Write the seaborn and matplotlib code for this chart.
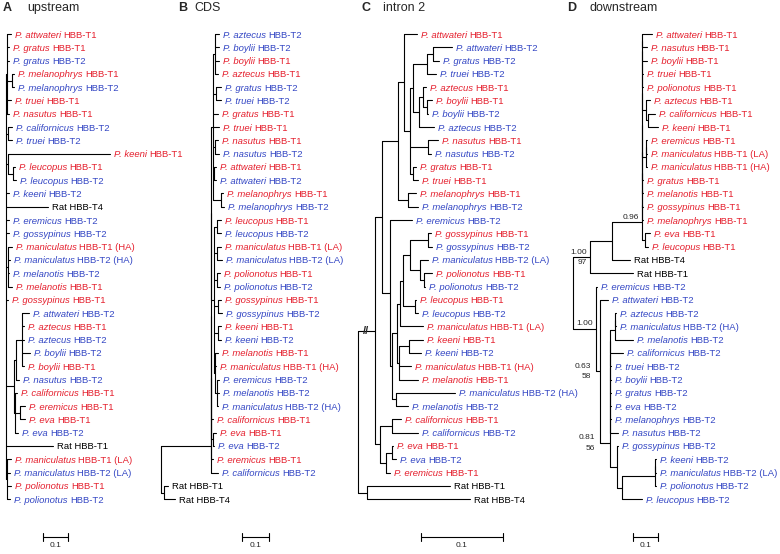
import matplotlib
matplotlib.use("Agg")
import matplotlib.pyplot as plt
import pandas as pd
import seaborn as sns

# gene trees, branch lengths in substitutions/site
# leaf code = species[-population].gene, internal names = support values
upstream_tree = (
    "((attwateri.T1:0.016,gratus.T1:0.008,gratus.T2:0.008,"
    "(melanophrys.T1:0.008,melanophrys.T2:0.008):0.02,truei.T1:0.016,nasutus.T1:0.008):0.004,"
    "(californicus.T2:0.016,truei.T2:0.016):0.008,"
    "(keeni.T1:0.408,(leucopus.T1:0.008,leucopus.T2:0.012):0.02):0.008,"
    "keeni.T2:0.012,Rat.T4:0.168,eremicus.T2:0.012,gossypinus.T2:0.012,"
    "(maniculatus-HA.T1:0.016,maniculatus-HA.T2:0.008,melanotis.T2:0.004,melanotis.T1:0.016):0.008,"
    "gossypinus.T1:0.008,"
    "(((attwateri.T2:0.028,aztecus.T1:0.008,aztecus.T2:0.008,boylii.T2:0.032,boylii.T1:0.008):0.024,"
    "nasutus.T2:0.012):0.008,"
    "(californicus.T1:0.008,(eremicus.T1:0.02,eva.T1:0.02):0.02,eva.T2:0.012):0.004):0.032,"
    "Rat.T1:0.188,"
    "(maniculatus-LA.T1:0.016,maniculatus-LA.T2:0.012,polionotus.T1:0.016,polionotus.T2:0.012):0.004);"
)

cds_tree = (
    "((((((("
    "(aztecus.T2:0.0148,boylii.T2:0.0148,boylii.T1:0.0148,aztecus.T1:0.011):0.0074,"
    "(gratus.T2:0.0185,truei.T2:0.0185):0.011,gratus.T1:0.0185,truei.T1:0.022,"
    "(nasutus.T1:0.011,nasutus.T2:0.0148):0.0074,"
    "(attwateri.T1:0.0074,attwateri.T2:0.0074):0.0037,"
    "(melanophrys.T1:0.0074,melanophrys.T2:0.011):0.0296):0.0074,"
    "((leucopus.T1:0.0148,leucopus.T2:0.0148):0.011,"
    "(maniculatus-LA.T1:0.0148,maniculatus-LA.T2:0.0185):0.011,"
    "(polionotus.T1:0.011,polionotus.T2:0.011):0.011,"
    "(gossypinus.T1:0.011,gossypinus.T2:0.0148):0.0148,"
    "(keeni.T1:0.011,keeni.T2:0.011):0.0148,"
    "(melanotis.T1:0.011,maniculatus-HA.T1:0.0037,"
    "(eremicus.T2:0.0074,melanotis.T2:0.0074,maniculatus-HA.T2:0.0037):0.0074):0.0037):0.011"
    "):0,californicus.T1:0.0074):0,"
    "(eva.T1:0.011,eva.T2:0.0037):0.0074):0,eremicus.T1:0.0074):0,"
    "californicus.T2:0.026):0.185,"
    "(Rat.T1:0.0148,Rat.T4:0.041):0.011);"
)

intron2_tree = (
    "((((("
    "attwateri.T1:0.0159,"
    "(("
    "((attwateri.T2:0.0232,gratus.T2:0.0073):0.0073,truei.T2:0.011):0.0171,"
    "((aztecus.T1:0.0037,(boylii.T1:0.0061,boylii.T2:0.0012):0.0049):0.0049,aztecus.T2:0.0183):0.0073"
    "):0.0037,"
    "(nasutus.T1:0.0122,nasutus.T2:0.0037):0.022,"
    "(gratus.T1:0.0037,truei.T1:0.0061):0.0037"
    "):0.0073):0.0073,"
    "(melanophrys.T1:0.0098,melanophrys.T2:0.0122):0.0122):0.0195,"
    "(eremicus.T2:0.0268,"
    "((((("
    "(gossypinus.T1:0.0037,gossypinus.T2:0.0049):0.022,"
    "(maniculatus-LA.T2:0.0098,(polionotus.T1:0.0098,polionotus.T2:0.0012):0.0049):0.0122"
    "):0.0085,"
    "(leucopus.T1:0.0012,leucopus.T2:0.0037):0.0146):0.0037,"
    "maniculatus-LA.T1:0.028):0.0037,"
    "((keeni.T1:0.0171,keeni.T2:0.0146):0.0122,maniculatus-HA.T1:0.0146,melanotis.T1:0.0232):0.0024"
    "):0.0061,"
    "(maniculatus-HA.T2:0.072,melanotis.T2:0.0146):0.0049"
    "):0.0024):0.0098):0.0085,"
    "((californicus.T1:0.011,californicus.T2:0.0317):0.0146,"
    "((eva.T1:0.0012,eva.T2:0.0049):0.0073,eremicus.T1:0.0049):0.0073):0.0061"
    ")//:0.0207,"
    "(Rat.T1:0.101,Rat.T4:0.126):0.011);"
)

downstream_tree = (
    "(((((((((((((("
    "attwateri.T1:0.0405,nasutus.T1:0.02):0,boylii.T1:0.02):0,truei.T1:0.004):0,"
    "polionotus.T1:0.004):0,"
    "(aztecus.T1:0.016,(californicus.T1:0.028,keeni.T1:0.0405):0.008):0.016):0,"
    "((eremicus.T1:0.004,maniculatus-LA.T1:0.004):0,maniculatus-HA.T1:0.004):0.016):0,"
    "gratus.T1:0.004):0,melanotis.T1:0.004):0,gossypinus.T1:0.004):0,melanophrys.T1:0.004):0,"
    "(eva.T1:0.02,leucopus.T1:0.012):0.012)0.96:0.121,"
    "Rat.T4:0.073):0.089,Rat.T1:0.174)1.00/97:0.069,"
    "(eremicus.T2:0.004,(attwateri.T2:0.032,"
    "(((((((("
    "((aztecus.T2:0.004,maniculatus-HA.T2:0.004):0,melanotis.T2:0.073):0.02,"
    "californicus.T2:0.053):0,truei.T2:0.004):0,boylii.T2:0.004):0,gratus.T2:0.004):0,"
    "eva.T2:0.004):0,melanophrys.T2:0.004):0,nasutus.T2:0.032):0,"
    "(gossypinus.T2:0.004,(((keeni.T2:0.004,maniculatus-LA.T2:0.004):0,polionotus.T2:0.004):0.134,"
    "leucopus.T2:0.081):0.02):0.028)0.81/56:0.0405)0.63/58:0.016)1.00:0.093);"
)

trees = [upstream_tree, cds_tree, intron2_tree, downstream_tree]
panel_letters = ["A", "B", "C", "D"]
panel_titles = ["upstream", "CDS", "intron 2", "downstream"]
scale_bar_value = 0.1

# layout in pixels of the 780x554 canvas
W, H = 780, 554
LEAF_Y0, LEAF_DY = 34, 13.29
root_px = [6, 161, 358, 573]
px_per_unit = [250, 270, 820, 247]
bar_px = [43, 242, 421, 633]
letter_px = [3, 178, 362, 567]
title_px = [27, 194, 383, 590]

RED = "#e5202e"
BLUE = "#3447c4"
LEAF_FS = 6.8
PT = 0.72  # points per pixel at dpi 100


def parse_newick(text):
    s = "".join(text.split()).rstrip(";")
    pos = 0

    def read_node():
        nonlocal pos
        node = {"name": "", "length": 0.0, "children": []}
        if s[pos] == "(":
            pos += 1
            node["children"].append(read_node())
            while s[pos] == ",":
                pos += 1
                node["children"].append(read_node())
            pos += 1
        start = pos
        while pos < len(s) and s[pos] not in ",():":
            pos += 1
        node["name"] = s[start:pos]
        if pos < len(s) and s[pos] == ":":
            pos += 1
            start = pos
            while pos < len(s) and s[pos] not in ",()":
                pos += 1
            node["length"] = float(s[start:pos])
        return node

    return read_node()


def place(node, parent_x, leaves):
    node["x"] = parent_x + node["length"]
    node["parent_x"] = parent_x
    for c in node["children"]:
        place(c, node["x"], leaves)
    if node["children"]:
        node["y"] = (node["children"][0]["y"] + node["children"][-1]["y"]) / 2
    else:
        node["y"] = len(leaves)
        leaves.append(node)


def walk(node):
    yield node
    for c in node["children"]:
        yield from walk(c)


def segments(root):
    rows = []
    k = 0
    for n in walk(root):
        for c in n["children"]:
            rows += [(k, n["x"], c["y"]), (k, c["x"], c["y"])]
            k += 1
        if n["children"]:
            rows += [(k, n["x"], n["children"][0]["y"]), (k, n["x"], n["children"][-1]["y"])]
            k += 1
    return pd.DataFrame(rows, columns=["seg", "x", "y"])


def leaf_label(ax, leaf):
    sp, gene = leaf["name"].split(".")
    kw = dict(xy=(leaf["x"], leaf["y"]), xytext=(4 * PT, 0), textcoords="offset points",
              va="center_baseline", ha="left", fontsize=LEAF_FS)
    if sp == "Rat":
        ax.annotate("Rat HBB-" + gene, color="black", **kw)
        return
    color = RED if gene == "T1" else BLUE
    tail = "HBB-" + gene
    if "-" in sp:
        sp, pop = sp.split("-")
        tail += " (" + pop + ")"
    t = ax.annotate("P. " + sp, color=color, style="italic", **kw)
    ax.annotate(tail, xy=(1, 0), xycoords=t, xytext=(1.7, 0), textcoords="offset points",
                va="bottom", ha="left", fontsize=LEAF_FS, color=color)


sns.set_theme(style="white")
plt.rcParams["font.family"] = ["Liberation Sans", "DejaVu Sans"]

fig = plt.figure(figsize=(W / 100, H / 100), dpi=100)
fig.patch.set_facecolor("white")

for i, text in enumerate(trees):
    ax = fig.add_axes([0, 0, 1, 1])
    ppu = px_per_unit[i]
    root = parse_newick(text)
    leaves = []
    place(root, 0.0, leaves)

    sns.lineplot(data=segments(root), x="x", y="y", units="seg", estimator=None, sort=False,
                 color="black", linewidth=0.8, ax=ax, legend=False)

    for leaf in leaves:
        leaf_label(ax, leaf)

    for n in walk(root):
        if not n["children"] or not n["name"] or n is root:
            continue
        if n["name"] == "//":
            ax.text((n["x"] + n["parent_x"]) / 2, n["y"], "//", ha="center", va="center",
                    fontsize=8, fontweight="bold")
            continue
        parts = n["name"].split("/")
        if n["length"] * ppu >= 15:
            ax_x, dx = n["x"], -3
        else:
            ax_x, dx = n["parent_x"], -5
        ax.annotate(parts[0], xy=(ax_x, n["y"]), xytext=(dx * PT, 1.2), textcoords="offset points",
                    ha="right", va="bottom", fontsize=6)
        if len(parts) > 1:
            ax.annotate(parts[1], xy=(ax_x, n["y"]), xytext=(dx * PT, -1.2), textcoords="offset points",
                        ha="right", va="top", fontsize=6)

    # scale bar
    bx = (bar_px[i] - root_px[i]) / ppu
    by = (537 - LEAF_Y0) / LEAF_DY
    tick = 4 / LEAF_DY
    ax.plot([bx, bx + scale_bar_value], [by, by], color="black", lw=0.8)
    ax.plot([bx, bx], [by - tick, by + tick], color="black", lw=0.8)
    ax.plot([bx + scale_bar_value] * 2, [by - tick, by + tick], color="black", lw=0.8)
    ax.text(bx + scale_bar_value / 2, by + 5 / LEAF_DY, str(scale_bar_value), ha="center", va="top",
            fontsize=6)

    ax.set_xlim(-root_px[i] / ppu, (W - root_px[i]) / ppu)
    ax.set_ylim((H - LEAF_Y0) / LEAF_DY, -LEAF_Y0 / LEAF_DY)
    ax.set_axis_off()

    fig.text(letter_px[i] / W, 1 - 11 / H, panel_letters[i], fontsize=9, fontweight="bold",
             va="baseline", ha="left")
    fig.text(title_px[i] / W, 1 - 11 / H, panel_titles[i], fontsize=9, va="baseline", ha="left")

fig.savefig("out.png", dpi=100)
